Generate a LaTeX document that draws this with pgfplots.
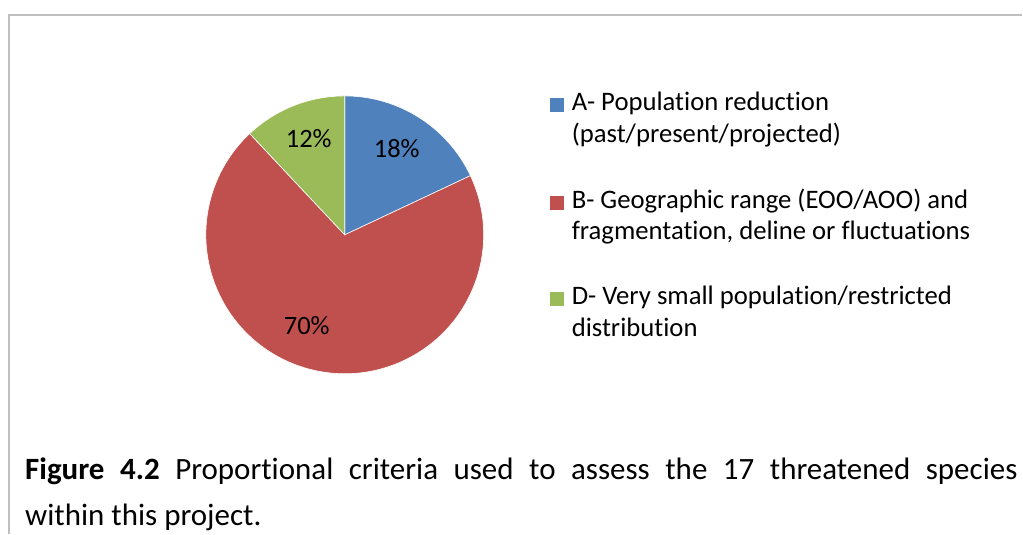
\documentclass[border=0pt]{standalone}
\usepackage{pgfplots}
\pgfplotsset{compat=1.18}
\usepackage{pgfplotstable}
\usetikzlibrary{calc}
\usepackage{fontspec}
\setmainfont{Carlito}[Ligatures=NoCommon]

\definecolor{critA}{HTML}{4F81BD}
\definecolor{critB}{HTML}{C0504D}
\definecolor{critD}{HTML}{9BBB59}
\definecolor{frame}{HTML}{BFBFBF}

% share of the 17 threatened species per criterion (%)
\pgfplotstableread{
crit share
A 18
B 70
D 12
}\pietable

\begin{document}
\begin{tikzpicture}
    \pgfplotstablegetelem{0}{share}\of\pietable \let\sA\pgfplotsretval
    \pgfplotstablegetelem{1}{share}\of\pietable \let\sB\pgfplotsretval
    \pgfplotstablegetelem{2}{share}\of\pietable \let\sD\pgfplotsretval
    % slices run clockwise from 12 o'clock
    \pgfmathsetmacro\aA{90-3.6*\sA}
    \pgfmathsetmacro\aB{\aA-3.6*\sB}
    \pgfmathsetmacro\aD{\aB-3.6*\sD}
    \def\R{139pt}

    \begin{axis}[
        hide axis,
        scale only axis,
        width=1023pt, height=534pt,
        xmin=0, xmax=1023,
        ymin=0, ymax=534,
        clip=false,
    ]
        % keep the whole canvas in the bounding box
        \path (axis cs:0,0) rectangle (axis cs:1023,534);

        % chart frame (only top and left edges visible)
        \draw[frame, line width=1.5pt] (axis cs:9,0) -- (axis cs:9,519) -- (axis cs:1023,519);

        % pie
        \fill[critA, draw=white, line width=0.6pt] (axis cs:345,299) -- +(90:\R)
            arc[start angle=90, end angle=\aA, radius=\R] -- cycle;
        \fill[critB, draw=white, line width=0.6pt] (axis cs:345,299) -- +(\aA:\R)
            arc[start angle=\aA, end angle=\aB, radius=\R] -- cycle;
        \fill[critD, draw=white, line width=0.6pt] (axis cs:345,299) -- +(\aB:\R)
            arc[start angle=\aB, end angle=\aD, radius=\R] -- cycle;

        \begin{scope}[font=\fontsize{26.5}{26.5}\selectfont]
            \node[anchor=base, inner sep=0pt] at (axis cs:397,376) {\sA\%};
            \node[anchor=base, inner sep=0pt] at (axis cs:307,199) {\sB\%};
            \node[anchor=base, inner sep=0pt] at (axis cs:309,386) {\sD\%};
        \end{scope}

        % legend
        \begin{scope}[font=\fontsize{26.7}{26.7}\selectfont]
            \fill[critA] (axis cs:550,422) rectangle (axis cs:564,436);
            \node[anchor=base west, inner sep=0pt] at (axis cs:572,423) {A- Population reduction};
            \node[anchor=base west, inner sep=0pt] at (axis cs:572,391) {(past/present/projected)};
            \fill[critB] (axis cs:550,324) rectangle (axis cs:564,338);
            \node[anchor=base west, inner sep=0pt] at (axis cs:572,325) {B- Geographic range (EOO/AOO) and};
            \node[anchor=base west, inner sep=0pt] at (axis cs:572,294) {fragmentation, deline or fluctuations};
            \fill[critD] (axis cs:550,228) rectangle (axis cs:564,242);
            \node[anchor=base west, inner sep=0pt] at (axis cs:572,229) {D- Very small population/restricted};
            \node[anchor=base west, inner sep=0pt] at (axis cs:572,197) {distribution};
        \end{scope}

        % caption
        \begin{scope}[font=\fontsize{31}{31}\selectfont]
            \node[anchor=base west, inner sep=0pt] at (axis cs:25,54)
                {\makebox[993pt][s]{\textbf{Figure 4.2} Proportional criteria used to assess the 17 threatened species}};
            \node[anchor=base west, inner sep=0pt] at (axis cs:25,8) {within this project.};
        \end{scope}
    \end{axis}
\end{tikzpicture}
\end{document}
